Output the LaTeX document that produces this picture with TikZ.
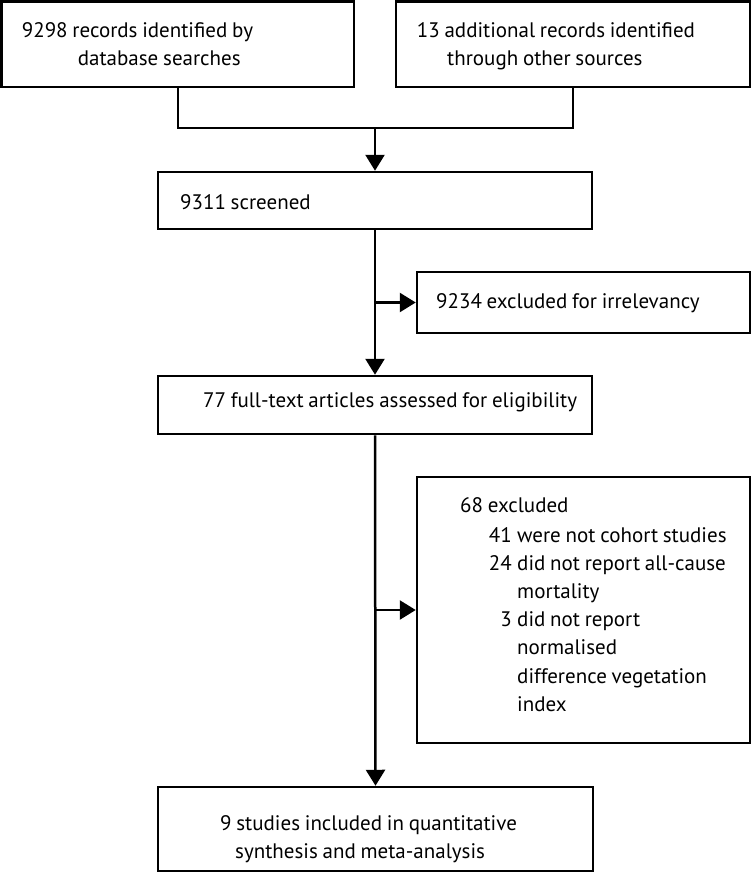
\documentclass[tikz,border=0pt]{standalone}
\usepackage{fontspec}
\setmainfont{PT Sans}[WordSpace=0.85]
\usetikzlibrary{arrows.meta}
\begin{document}
\begin{tikzpicture}[x=1bp,y=-1bp,
  box/.style={draw=black,line width=2.5bp,inner sep=0pt,fill=white},
  txt/.style={anchor=base west,inner sep=0pt,font=\fontsize{21bp}{24bp}\selectfont},
  num/.style={anchor=base east,inner sep=0pt,font=\fontsize{21bp}{24bp}\selectfont},
  link/.style={line width=2.5bp},
  arr/.style={line width=2.5bp,-{Triangle[length=16bp,width=19bp]}}]
\useasboundingbox[fill=white] (0,0) rectangle (752,874);
% boxes
\node[box,minimum width=352.5bp,minimum height=85.5bp] (b1) at (177.75,44.25) {};
\node[box,minimum width=354bp,minimum height=85.5bp] (b2) at (573,44.25) {};
\node[box,minimum width=434bp,minimum height=57bp] (b3) at (375,200.5) {};
\node[box,minimum width=333bp,minimum height=61bp] (bx1) at (583.5,302.5) {};
\node[box,minimum width=434bp,minimum height=58bp] (b4) at (375,405) {};
\node[box,minimum width=333bp,minimum height=266bp] (bx2) at (583.5,610) {};
\node[box,minimum width=435bp,minimum height=84bp] (b5) at (375.5,829) {};
% texts
\node[txt] (t1a) at (21.7,37.3) {9298 records identified by};
\node[txt] (t1b) at (77.7,65) {database searches};
\node[txt] (t2a) at (416.7,37) {13 additional records identified};
\node[txt] (t2b) at (447,65) {through other sources};
\node[txt] (t3) at (180,209) {9311 screened};
\node[txt] (tx1) at (436,308) {9234 excluded for irrelevancy};
\node[txt] (t4) at (203,407) {77 full-text articles assessed for eligibility};
\node[txt] (e0) at (460,512) {68 excluded};
\node[num] (n1) at (512,542) {41};
\node[txt] (e1) at (517,542) {were not cohort studies};
\node[num] (n2) at (512,570) {24};
\node[txt] (e2) at (517,570) {did not report all-cause};
\node[txt] (e2b) at (517,598) {mortality};
\node[num] (n3) at (512,626) {3};
\node[txt] (e3) at (517,626) {did not report};
\node[txt] (e3b) at (517,654) {normalised};
\node[txt] (e3c) at (517,683) {difference vegetation};
\node[txt] (e3d) at (517,711) {index};
\node[txt] (t5a) at (220,830) {9 studies included in quantitative};
\node[txt] (t5b) at (235,858) {synthesis and meta-analysis};
% connectors
\coordinate (j1) at (375,128);
\draw[link] (b1.south) |- (j1);
\draw[link] (b2.south) |- (j1);
\draw[arr] (j1) -- (b3.north);
\draw[arr] (b3.south) -- (b4.north);
\draw[arr] (b3.south |- bx1.west) -- (bx1.west);
\draw[arr] (b4.south) -- (b5.north);
\draw[arr] (b4.south |- bx2.west) -- (bx2.west);
\end{tikzpicture}
\end{document}
